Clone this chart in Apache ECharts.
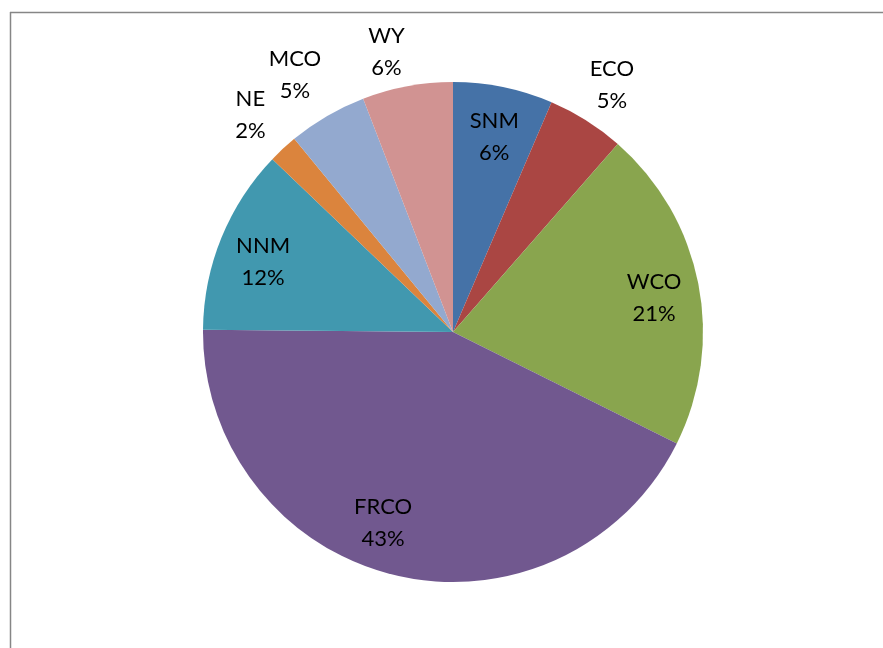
<!DOCTYPE html>
<html>
<head>
<meta charset="utf-8">
<script src="https://cdn.jsdelivr.net/npm/echarts@6/dist/echarts.min.js"></script>
<style>
  html, body { margin: 0; padding: 0; background: #fff; }
  #chart { width: 883px; height: 648px; }
</style>
</head>
<body>
<div id="chart"></div>
<script>
// slices, clockwise from 12 o'clock
const regions = ["SNM", "ECO", "WCO", "FRCO", "NNM", "NE", "MCO", "WY"];
const shares = [6.45, 5.0, 20.9, 42.8, 12.0, 1.9, 5.1, 5.85];
const colors = ["#4572A7", "#AA4643", "#89A54E", "#71588F", "#4198AF", "#DB843D", "#93A9CF", "#D19392"];
// where the data label sits: on the slice or just outside it
const labelSide = ["in", "out", "in", "in", "in", "out", "out", "out"];
// small hand nudges so labels land where Excel's "best fit" put them
const labelNudge = [[0, 6], [0, 5], [0, 6], [-22, -8], [0, 7], [0, 1], [-8, 0], [-12, 13]];

const center = [453, 332];
const R = 250;

const chart = echarts.init(document.getElementById("chart"));

const labelText = (p) => p.name + "\n" + Math.round(p.percent) + "%";

function labelRing(side, radius) {
  return {
    type: "pie",
    center: center,
    radius: radius,
    startAngle: 90,
    clockwise: true,
    silent: true,
    animation: false,
    emphasis: { disabled: true },
    itemStyle: { color: "rgba(0,0,0,0)", borderWidth: 0 },
    labelLine: { show: false },
    data: regions.map((name, i) => ({
      name,
      value: shares[i],
      label: {
        show: labelSide[i] === side,
        position: "inside",
        formatter: labelText,
        offset: labelNudge[i],
        color: "#000",
        fontFamily: "Lato",
        fontSize: 22,
        lineHeight: 32,
        align: "center",
      },
    })),
  };
}

const option = {
  backgroundColor: "#fff",
  animation: false,
  graphic: [
    {
      type: "line",
      shape: { x1: 10, y1: 12.5, x2: 883, y2: 12.5 },
      style: { stroke: "#868686", lineWidth: 1.5 },
    },
    {
      type: "line",
      shape: { x1: 10.5, y1: 12, x2: 10.5, y2: 648 },
      style: { stroke: "#868686", lineWidth: 1.5 },
    },
  ],
  series: [
    {
      type: "pie",
      center: center,
      radius: [0, R],
      startAngle: 90,
      clockwise: true,
      silent: true,
      animation: false,
      label: { show: false },
      labelLine: { show: false },
      itemStyle: { borderWidth: 0 },
      data: regions.map((name, i) => ({
        name,
        value: shares[i],
        itemStyle: { color: colors[i] },
      })),
    },
    labelRing("in", [154, R]),
    labelRing("out", [R, 340]),
  ],
};

chart.setOption(option);
</script>
</body>
</html>
